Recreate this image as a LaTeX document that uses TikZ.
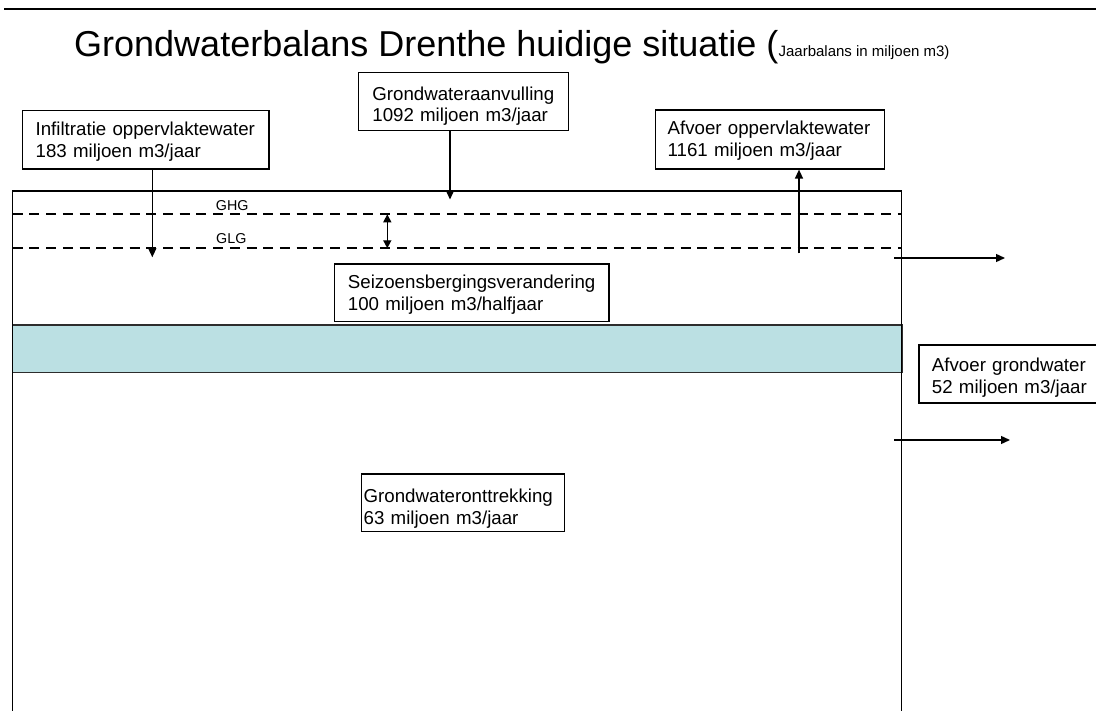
\documentclass[tikz,border=0pt]{standalone}
\usepackage{fontspec}
\setmainfont{Liberation Sans}
\usetikzlibrary{arrows.meta}
\definecolor{bandcyan}{RGB}{187,224,227}
\definecolor{bandedge}{RGB}{45,45,45}
\tikzset{
  flowbox/.style={draw=black, line width=1.3pt, fill=white, align=left,
    font=\fontsize{18.7}{21.7}\selectfont,
    inner ysep=0pt, anchor=north west},
  flow/.style={line width=1.4pt, -{Triangle[length=9pt,width=8pt]}},
  twoway/.style={line width=1.4pt, {Triangle[length=8pt,width=8pt]}-{Triangle[length=8pt,width=8pt]}},
  level/.style={line width=2.3pt, dash pattern=on 10pt off 6.7pt},
  wall/.style={line width=1.5pt},
  levellabel/.style={font=\fontsize{14.3}{16}\selectfont, anchor=base west, inner sep=0pt},
}
\begin{document}
\begin{tikzpicture}[x=1pt,y=-1pt]
\useasboundingbox (0,0) rectangle (1096,711);

% heading rule and title
\draw[line width=2pt] (4,9.5) -- (1096,9.5);
\node[anchor=base west, inner sep=0pt] (title) at (74,57)
  {\fontsize{36}{42}\selectfont Grondwaterbalans Drenthe huidige situatie (\fontsize{15}{18}\selectfont Jaarbalans in miljoen m3)};

% seasonal storage layer (cyan band)
\draw[draw=bandedge, line width=1.5pt, fill=bandcyan] (12.7,325) rectangle (902.7,372.3);

% groundwater body: open at the bottom
\draw[wall] (12.7,711) -- (12.7,191) -- (901.7,191) -- (901.7,711);

% groundwater levels
\coordinate (ghgL) at (12.7,214.3);
\coordinate (ghgR) at (901.7,214.3);
\coordinate (glgL) at (12.7,248.3);
\coordinate (glgR) at (901.7,248.3);
\draw[level] (ghgL) -- (ghgR);
\draw[level] (glgL) -- (glgR);
\node[levellabel] (ghg) at (215.7,210.7) {GHG};
\node[levellabel] (glg) at (216,244) {GLG};

% flux boxes
\node[flowbox, inner xsep=13pt, text width=220.3pt, text height=25pt, text depth=33.3pt]
  (infil) at (22,110) {Infiltratie oppervlaktewater\\183 miljoen m3/jaar};
\node[flowbox, inner xsep=14pt, text width=182pt, text height=27.7pt, text depth=30.6pt]
  (aanv) at (357.7,71.7) {Grondwateraanvulling\\1092 miljoen m3/jaar};
\node[flowbox, inner xsep=12pt, text width=205pt, text height=25pt, text depth=34pt]
  (afvopp) at (655,109.3) {Afvoer oppervlaktewater\\1161 miljoen m3/jaar};
\node[flowbox, inner xsep=13.3pt, text width=247.7pt, text height=24.4pt, text depth=33pt]
  (seiz) at (334,263.3) {Seizoensbergingsverandering\\100 miljoen m3/halfjaar};
\node[flowbox, inner xsep=2.5pt, text width=198.5pt, text height=28.4pt, text depth=29.3pt]
  (ontt) at (360.5,473.3) {Grondwateronttrekking\\63 miljoen m3/jaar};
\node[flowbox, inner xsep=13pt, text width=159pt, text height=26.7pt, text depth=31.3pt]
  (afvgw) at (918.3,344.3) {Afvoer grondwater\\52 miljoen m3/jaar};

% vertical fluxes
\coordinate (infilEnd) at (152.3,257.3);
\draw[flow] (infil.south -| infilEnd) -- (infilEnd);
\coordinate (aanvEnd) at (450,199.5);
\draw[flow] (aanv.south -| aanvEnd) -- (aanvEnd);
\coordinate (afvoppStart) at (799,253.3);
\draw[flow] (afvoppStart) -- (afvopp.south -| afvoppStart);

% seasonal fluctuation between GHG and GLG
\coordinate (fluct) at (387.3,0);
\draw[twoway] (ghgL -| fluct) -- (glgL -| fluct);

% lateral outflows
\coordinate (outTopS) at (894,258);
\coordinate (outTopE) at (1005,258);
\coordinate (outLowS) at (894,440);
\coordinate (outLowE) at (1010,440);
\draw[flow] (outTopS) -- (outTopE);
\draw[flow] (outLowS) -- (outLowE);
\end{tikzpicture}
\end{document}
